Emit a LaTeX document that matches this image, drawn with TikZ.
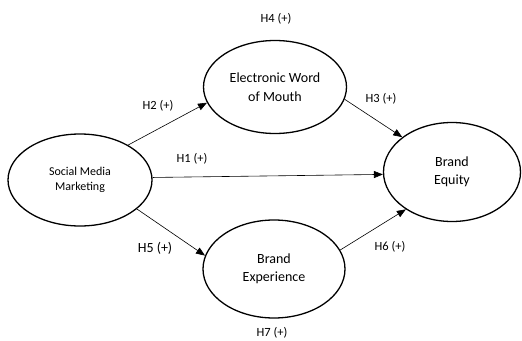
\documentclass[tikz,border=0pt]{standalone}
\usepackage{fontspec}
\setmainfont{Carlito}
\usetikzlibrary{shapes.geometric,arrows.meta}
\begin{document}
\begin{tikzpicture}[x=1pt,y=-1pt,
  construct/.style={ellipse,draw,line width=1.3pt,inner sep=0pt,align=center},
  path/.style={line width=0.6pt,-{Triangle[length=9pt,width=7pt]}},
  hyp/.style={font=\fontsize{12.5}{15}\selectfont}]
\useasboundingbox (0,0) rectangle (522,340);
\node[construct,minimum width=144pt,minimum height=92pt,font=\fontsize{12}{15.3}\selectfont] (smm) at (80,180) {Social Media\\Marketing};
\node[construct,minimum width=143pt,minimum height=93pt,font=\fontsize{14}{18.5}\selectfont] (ewom) at (275,87) {Electronic Word\\of Mouth};
\node[construct,minimum width=142pt,minimum height=98pt,font=\fontsize{14}{18.5}\selectfont] (be) at (274,269) {Brand\\Experience};
\node[construct,minimum width=137pt,minimum height=99pt,font=\fontsize{14}{18.5}\selectfont] (beq) at (452,172) {Brand\\Equity};
\draw[path] (smm.36) -- (ewom.193);
\draw[path] (smm.-27) -- (be.169);
\draw[path] (smm.2) -- (beq.182);
\draw[path] (ewom.-10) -- (beq.145);
\draw[path] (be.16) -- (beq.219);
\node[hyp] (h4) at (276,19) {H4 (+)};
\node[hyp] (h2) at (158,106) {H2 (+)};
\node[hyp] (h1) at (192,159) {H1 (+)};
\node[hyp] (h3) at (381,99) {H3 (+)};
\node[font=\fontsize{14}{17}\selectfont] (h5) at (155,248) {H5 (+)};
\node[hyp] (h6) at (390,247) {H6 (+)};
\node[hyp] (h7) at (272,333) {H7 (+)};
\end{tikzpicture}
\end{document}
